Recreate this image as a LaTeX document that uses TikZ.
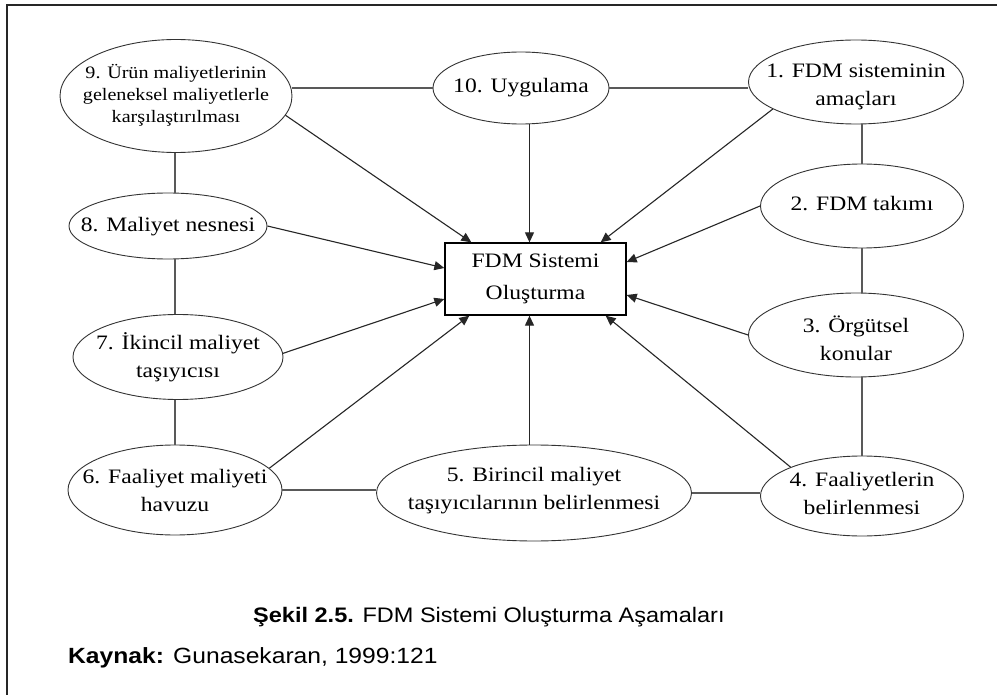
\documentclass[tikz,border=0pt]{standalone}
\usepackage{fontspec}
\setmainfont{Liberation Serif}[FakeStretch=1.15]
\newfontfamily\capfont{Liberation Sans}[FakeStretch=1.12]
\usetikzlibrary{shapes.geometric,arrows.meta}
\begin{document}
\begin{tikzpicture}[x=1pt,y=-1pt,
  el/.style={ellipse, draw=black!80, line width=0.9pt, inner sep=0pt},
  lbl/.style={align=center, inner sep=0pt, text=black, font=\fontsize{20.5}{28}\selectfont},
  smalllbl/.style={align=center, inner sep=0pt, text=black, font=\fontsize{17.5}{22}\selectfont},
  mainbox/.style={rectangle, draw=black, line width=1.3pt, inner sep=0pt, align=center,
    minimum width=181pt, minimum height=72pt, font=\fontsize{20.5}{32}\selectfont},
  link/.style={draw=black!65, line width=1.1pt},
  arr/.style={draw=black!85, line width=1.1pt, -{Triangle[length=10pt,width=9pt]}},
  captext/.style={inner sep=0pt, anchor=base west, text=black, font=\capfont\fontsize{21}{25}\selectfont}
]
\useasboundingbox (0,0) rectangle (997,695);
\fill[white] (0,0) rectangle (997,695);
% outer frame
\draw[black!85, line width=1.8pt] (7,695) -- (7,5) -- (997,5);

% central box
\node[mainbox] (box) at (535.5,279) {FDM Sistemi\\Oluşturma};

% ellipses
\node[el, minimum width=232pt, minimum height=113pt,
  label={[smalllbl, yshift=1pt]center:9. Ürün maliyetlerinin\\geleneksel maliyetlerle\\karşılaştırılması}] (e9) at (176,96) {};
\node[el, minimum width=176pt, minimum height=72pt,
  label={[lbl]center:10. Uygulama}] (e10) at (521,88) {};
\node[el, minimum width=215pt, minimum height=84pt,
  label={[lbl, yshift=-5pt]center:1. FDM sisteminin\\amaçları}] (e1) at (856,82) {};
\node[el, minimum width=203pt, minimum height=84pt,
  label={[lbl, yshift=2pt]center:2. FDM takımı}] (e2) at (862,206) {};
\node[el, minimum width=215pt, minimum height=84pt,
  label={[lbl, yshift=-3pt]center:3. Örgütsel\\konular}] (e3) at (856,335) {};
\node[el, minimum width=203pt, minimum height=80pt,
  label={[lbl, yshift=3pt]center:4. Faaliyetlerin\\belirlenmesi}] (e4) at (862,496) {};
\node[el, minimum width=315pt, minimum height=96pt,
  label={[lbl, yshift=2pt]center:5. Birincil maliyet\\taşıyıcılarının belirlenmesi}] (e5) at (534,493) {};
\node[el, minimum width=214pt, minimum height=90pt,
  label={[lbl]center:6. Faaliyet maliyeti\\havuzu}] (e6) at (175,490) {};
\node[el, minimum width=210pt, minimum height=85pt,
  label={[lbl]center:7. İkincil maliyet\\taşıyıcısı}] (e7) at (178,357) {};
\node[el, minimum width=198pt, minimum height=66pt,
  label={[lbl, yshift=-1pt]center:8. Maliyet nesnesi}] (e8) at (168,226) {};

% links (undirected)
\draw[link] (e10.west) -- (e10.west -| e9.east);
\draw[link] (e10.east) -- (e10.east -| e1.west);
\draw[link] (e2.north) -- (e2.north |- e1.south);
\draw[link] (e2.south) -- (e2.south |- e3.north);
\draw[link] (e4.north) -- (e4.north |- e3.south);
\draw[link] (e6.east) -- (e6.east -| e5.west);
\draw[link] (e5.east) -- (e5.east -| e4.west);
\draw[link] (e6.north) -- (e6.north |- e7.south);
\draw[link] (e6.north |- e7.north) -- (e6.north |- e8.south);
\draw[link] (e6.north |- e8.north) -- (e6.north |- e9.south);

% arrows into the central box
\coordinate (tA) at ([xshift=-6pt]box.north);
\coordinate (tB) at ([xshift=-6pt]box.south);
\draw[arr] (e9.-10) -- ([xshift=27pt]box.north west);
\draw[arr] (e10.south -| tA) -- (tA);
\draw[arr] (e1.198) -- ([xshift=-26pt]box.north east);
\draw[arr] (e2.west) -- ([yshift=17pt]box.east);
\draw[arr] (e3.west) -- ([yshift=-16pt]box.east);
\draw[arr] (e4.158) -- ([xshift=-21pt]box.south east);
\draw[arr] (e5.north -| tB) -- (tB);
\draw[arr] (e6.13) -- ([xshift=25pt]box.south west);
\draw[arr] (e7.2) -- ([yshift=-20pt]box.west);
\draw[arr] (e8.east) -- ([yshift=11pt]box.west);

% caption
\node[captext] (cap) at (253,622) {\textbf{Şekil 2.5.} FDM Sistemi Oluşturma Aşamaları};
\node[captext, font=\capfont\fontsize{22}{26}\selectfont] (src) at (68,663) {\textbf{Kaynak:} Gunasekaran, 1999:121};
\end{tikzpicture}
\end{document}
